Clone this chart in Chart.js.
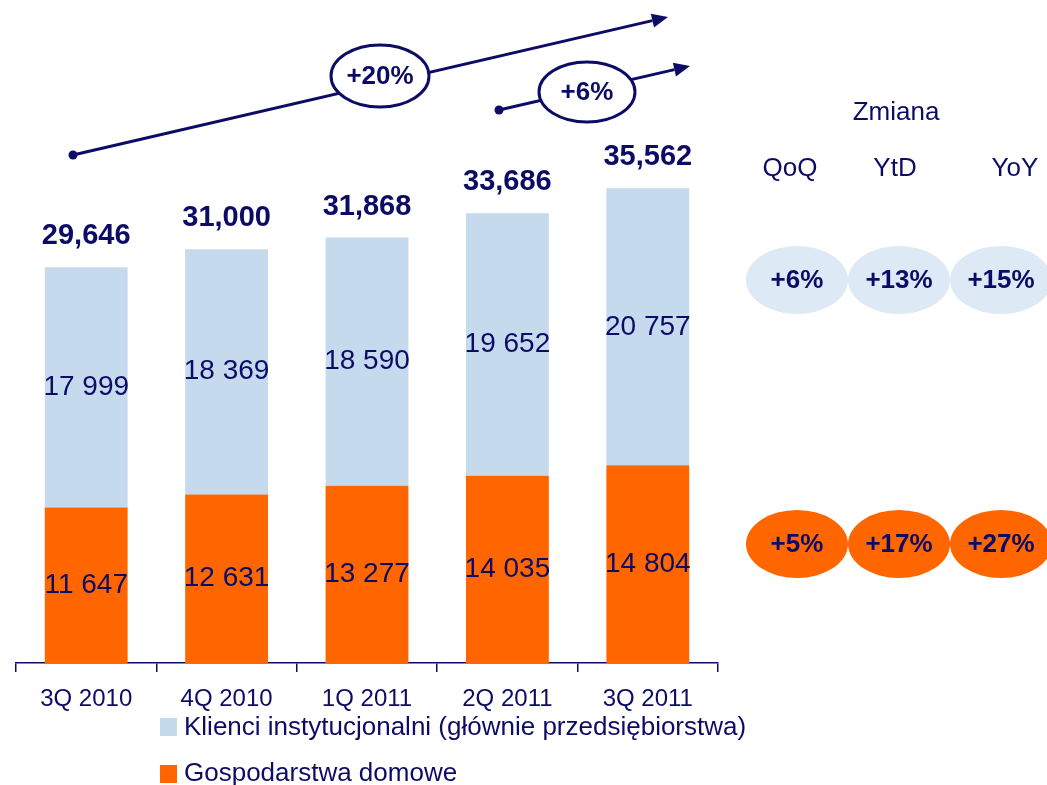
<!DOCTYPE html>
<html>
<head>
<meta charset="utf-8">
<script src="https://cdn.jsdelivr.net/npm/chart.js@4.4.1/dist/chart.umd.min.js"></script>
<style>
  html, body { margin: 0; padding: 0; background: #fff; }
  #wrap { position: relative; width: 1047px; height: 785px; }
</style>
</head>
<body>
<div id="wrap"><canvas id="chart"></canvas></div>
<script>
// Dane kwartalne (mln zł)
const quarters = ['3Q 2010', '4Q 2010', '1Q 2011', '2Q 2011', '3Q 2011'];
const institutional = [17999, 18369, 18590, 19652, 20757];
const households = [11647, 12631, 13277, 14035, 14804];
// sumy raportowane (zaokrąglenia w źródle)
const totals = [29646, 31000, 31868, 33686, 35562];

const changeHeaders = ['QoQ', 'YtD', 'YoY'];
const institutionalChange = ['+6%', '+13%', '+15%'];
const householdsChange = ['+5%', '+17%', '+27%'];
const growthYoY = '+20%';
const growthQoQ = '+6%';

const NAVY = '#0c0c66';
const ORANGE = '#ff6600';
const LIGHT_BLUE = '#c6daee';
const PALE_BLUE = '#dde9f5';
const FONT = '"Liberation Sans", Arial, sans-serif';

const fmtSpace = v => v.toLocaleString('en-US').replace(/,/g, ' ');
const fmtComma = v => v.toLocaleString('en-US');

function ellipse(ctx, cx, cy, rx, ry, fill, stroke) {
    ctx.beginPath();
    ctx.ellipse(cx, cy, rx, ry, 0, 0, Math.PI * 2);
    if (fill) { ctx.fillStyle = fill; ctx.fill(); }
    if (stroke) { ctx.strokeStyle = stroke; ctx.lineWidth = 3; ctx.stroke(); }
}

function arrow(ctx, x1, y1, x2, y2) {
    ctx.strokeStyle = NAVY;
    ctx.fillStyle = NAVY;
    ctx.lineWidth = 3;
    const a = Math.atan2(y2 - y1, x2 - x1);
    const hx = x2 - 16 * Math.cos(a), hy = y2 - 16 * Math.sin(a);
    ctx.beginPath(); ctx.moveTo(x1, y1); ctx.lineTo(hx, hy); ctx.stroke();
    ctx.beginPath();
    ctx.moveTo(x2, y2);
    ctx.lineTo(hx + 7 * Math.sin(a), hy - 7 * Math.cos(a));
    ctx.lineTo(hx - 7 * Math.sin(a), hy + 7 * Math.cos(a));
    ctx.closePath(); ctx.fill();
    ctx.beginPath(); ctx.arc(x1, y1, 4.5, 0, Math.PI * 2); ctx.fill();
}

// etykiety wartości, sumy, strzałki wzrostu, legenda i panel zmian
const annotations = {
    id: 'annotations',
    afterDatasetsDraw(chart) {
        const ctx = chart.ctx;
        ctx.save();
        ctx.textAlign = 'center';
        ctx.textBaseline = 'middle';

        // wartości w segmentach
        ctx.font = '28px ' + FONT;
        ctx.fillStyle = NAVY;
        chart.data.datasets.forEach((ds, di) => {
            chart.getDatasetMeta(di).data.forEach((bar, i) => {
                ctx.fillText(fmtSpace(ds.data[i]), bar.x, (bar.y + bar.base) / 2);
            });
        });

        // sumy nad słupkami
        ctx.font = 'bold 29px ' + FONT;
        const topMeta = chart.getDatasetMeta(1);
        totals.forEach((t, i) => {
            const bar = topMeta.data[i];
            ctx.fillText(fmtComma(t), bar.x, bar.y - 31);
        });

        // strzałki wzrostu
        ctx.font = 'bold 26px ' + FONT;
        arrow(ctx, 73, 155, 668, 17);
        ellipse(ctx, 380, 76, 49, 31, '#fff', NAVY);
        ctx.fillStyle = NAVY;
        ctx.fillText(growthYoY, 380, 77);

        arrow(ctx, 499, 110, 690, 66);
        ellipse(ctx, 587, 92, 48, 30, '#fff', NAVY);
        ctx.fillStyle = NAVY;
        ctx.fillText(growthQoQ, 587, 93);

        // panel zmian
        ctx.font = '26px ' + FONT;
        ctx.fillText('Zmiana', 896, 113);
        const colX = [790, 895, 1015];
        changeHeaders.forEach((h, i) => ctx.fillText(h, colX[i], 169));

        const ellX = [797, 899, 1001];
        ctx.font = 'bold 26px ' + FONT;
        institutionalChange.forEach((t, i) => {
            ellipse(ctx, ellX[i], 280, 51, 34, PALE_BLUE);
            ctx.fillStyle = NAVY;
            ctx.fillText(t, ellX[i], 281);
        });
        householdsChange.forEach((t, i) => {
            ellipse(ctx, ellX[i], 544, 51, 34, ORANGE);
            ctx.fillStyle = NAVY;
            ctx.fillText(t, ellX[i], 545);
        });

        // legenda
        ctx.textAlign = 'left';
        ctx.font = '26px ' + FONT;
        ctx.fillStyle = LIGHT_BLUE;
        ctx.fillRect(160, 718, 17, 18);
        ctx.fillStyle = NAVY;
        ctx.fillText('Klienci instytucjonalni (głównie przedsiębiorstwa)', 184, 728);
        ctx.fillStyle = ORANGE;
        ctx.fillRect(160, 765, 17, 18);
        ctx.fillStyle = NAVY;
        ctx.fillText('Gospodarstwa domowe', 184, 774);

        ctx.restore();
    }
};

new Chart(document.getElementById('chart'), {
    type: 'bar',
    data: {
        labels: quarters,
        datasets: [
            { label: 'Gospodarstwa domowe', data: households, backgroundColor: ORANGE },
            { label: 'Klienci instytucjonalni (głównie przedsiębiorstwa)', data: institutional, backgroundColor: LIGHT_BLUE }
        ]
    },
    options: {
        responsive: true,
        maintainAspectRatio: false,
        animation: false,
        layout: { padding: { left: 16, right: 329, top: 129, bottom: 0 } },
        plugins: { legend: { display: false }, tooltip: { enabled: false } },
        datasets: { bar: { barPercentage: 0.59, categoryPercentage: 1 } },
        scales: {
            x: {
                stacked: true,
                afterFit(scale) { scale.height = 122; },
                grid: { drawOnChartArea: false, drawTicks: true, tickLength: 9, color: NAVY, lineWidth: 1.5 },
                border: { display: true, color: NAVY, width: 1.5 },
                ticks: { color: NAVY, font: { family: FONT, size: 24 }, padding: 13 }
            },
            y: {
                stacked: true,
                display: false,
                min: 0,
                max: 40000
            }
        }
    },
    plugins: [annotations]
});
</script>
</body>
</html>
